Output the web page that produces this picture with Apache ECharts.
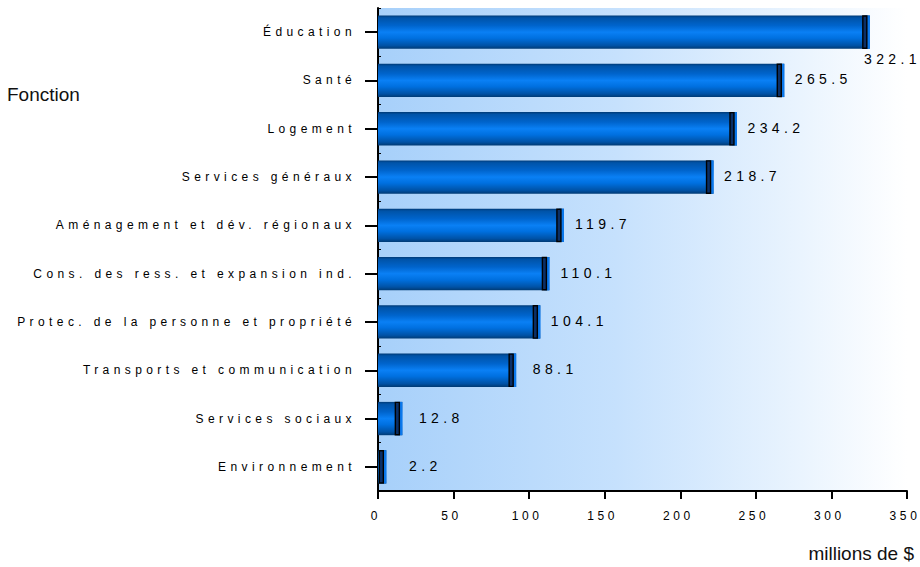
<!DOCTYPE html>
<html>
<head>
<meta charset="utf-8">
<title>Dépenses par fonction</title>
<script src="https://cdn.jsdelivr.net/npm/echarts@6/dist/echarts.min.js"></script>
<style>
  html, body { margin: 0; padding: 0; background: #ffffff; }
  #chart { width: 920px; height: 567px; }
  /* spaced-out lettering: category labels, value-axis labels, value labels */
  #chart text[style*="12px"] { letter-spacing: 4.4px; }
  #chart text[style*="12px"][style*="Liberation"] { letter-spacing: 3.6px; }
  #chart text[style*="14px"] { letter-spacing: 4.4px; }
</style>
</head>
<body>
<div id="chart"></div>
<script>
// Spending by function, top to bottom
const categories = [
  'Éducation',
  'Santé',
  'Logement',
  'Services généraux',
  'Aménagement et dév. régionaux',
  'Cons. des ress. et expansion ind.',
  'Protec. de la personne et propriété',
  'Transports et communication',
  'Services sociaux',
  'Environnement'
];
const values = [322.1, 265.5, 234.2, 218.7, 119.7, 110.1, 104.1, 88.1, 12.8, 2.2];

// Value axis
const axisMin = 0;
const axisMax = 350;
const axisStep = 50;

const yTitle = 'Fonction';
const xTitle = 'millions de $';

const chart = echarts.init(document.getElementById('chart'), null, { renderer: 'svg' });

const barFill = new echarts.graphic.LinearGradient(0, 0, 0, 1, [
  { offset: 0.00, color: '#003b78' },
  { offset: 0.07, color: '#0053a8' },
  { offset: 0.30, color: '#0064cc' },
  { offset: 0.50, color: '#0a80f5' },
  { offset: 0.68, color: '#0070e0' },
  { offset: 0.90, color: '#0052a6' },
  { offset: 1.00, color: '#003a74' }
]);

const plotFill = new echarts.graphic.LinearGradient(0, 0, 1, 0, [
  { offset: 0.00, color: '#a7d0fa' },
  { offset: 0.45, color: '#c6e1fd' },
  { offset: 0.80, color: '#eaf4fe' },
  { offset: 1.00, color: '#ffffff' }
]);

function renderBar(params, api) {
  const v = api.value(0);
  const idx = api.value(1);
  const base = api.coord([0, idx]);
  const end = api.coord([v, idx]);
  const band = api.size([0, 1])[1];
  const h = band * 0.69;
  const top = end[1] - h / 2;
  const face = 5;

  const children = [
    {
      type: 'rect',
      shape: { x: base[0], y: top, width: end[0] - base[0] + face, height: h },
      style: { fill: barFill }
    },
    {
      type: 'rect',
      shape: { x: end[0], y: top, width: face, height: h },
      style: { fill: '#0b78ec' }
    },
    {
      type: 'rect',
      shape: { x: end[0] - 2, y: top + 0.5, width: 4, height: h - 1 },
      style: { fill: '#0a2f66', stroke: '#000000', lineWidth: 1.4 }
    }
  ];

  // value label to the right of the bar; dropped under the bar end when it would run off the page
  const text = v.toFixed(1);
  const approxW = text.length * 11.6;
  const cx = end[0] + 44;
  const chartW = api.getWidth();
  const labelStyle = { fontSize: 14, fontFamily: 'Arial', fill: '#000000', text: text, verticalAlign: 'middle' };
  if (cx + approxW / 2 > chartW - 4) {
    children.push({
      type: 'text',
      style: Object.assign({ x: chartW + 1, y: top + h + 10, align: 'right' }, labelStyle)
    });
  } else {
    children.push({
      type: 'text',
      style: Object.assign({ x: cx, y: end[1] - 1, align: 'center' }, labelStyle)
    });
  }
  return { type: 'group', children: children };
}

chart.setOption({
  animation: false,
  backgroundColor: '#ffffff',
  grid: {
    left: 378, right: 13, top: 8, bottom: 76,
    show: true, backgroundColor: plotFill, borderWidth: 0
  },
  xAxis: {
    type: 'value',
    min: axisMin, max: axisMax, interval: axisStep,
    axisLine: { show: true, lineStyle: { color: '#000000', width: 2 } },
    axisTick: { show: true, length: 8, lineStyle: { color: '#000000', width: 2 } },
    splitLine: { show: false },
    axisLabel: {
      margin: 19, fontSize: 12, fontFamily: 'Liberation Sans', color: '#000000',
      padding: [0, 4, 0, 0]
    }
  },
  yAxis: [
    {
      type: 'category',
      data: categories,
      inverse: true,
      axisLine: { show: true, lineStyle: { color: '#000000', width: 2 } },
      axisTick: { show: true, length: 13, alignWithLabel: true, lineStyle: { color: '#000000', width: 2 } },
      axisLabel: { margin: 22, interval: 0, fontSize: 12, fontFamily: 'Arial', color: '#000000' },
      splitLine: { show: false }
    },
    {
      // short inner ticks at the category boundaries
      type: 'category',
      data: categories,
      inverse: true,
      position: 'left',
      axisLine: { show: false },
      axisTick: { show: true, inside: true, length: 3, interval: 0, lineStyle: { color: '#000000', width: 1 } },
      axisLabel: { show: false },
      splitLine: { show: false }
    }
  ],
  series: [{
    type: 'custom',
    renderItem: renderBar,
    encode: { x: 0, y: 1 },
    yAxisIndex: 0,
    clip: false,
    data: values.map((v, i) => [v, i])
  }],
  graphic: [
    {
      type: 'text', left: 7, top: 85,
      style: { text: yTitle, fontSize: 19, fontFamily: 'Arial', fill: '#111111' }
    },
    {
      type: 'text', right: 6, top: 544,
      style: { text: xTitle, fontSize: 19, fontFamily: 'Arial', fill: '#111111' }
    }
  ]
});
</script>
</body>
</html>
